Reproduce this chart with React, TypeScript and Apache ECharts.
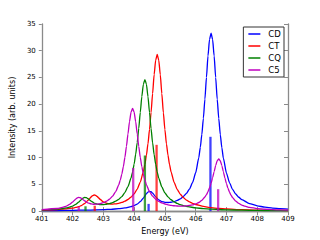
import React, { useEffect, useRef } from "react";
import * as echarts from "echarts";

const seriesNames = ["CD", "CT", "CQ", "C5"];
const seriesColors = ["#0000ff", "#ff0000", "#008000", "#bf00bf"];

const cdCurve: [number, number][] = [[401,0.09],[401.5,0.11],[402,0.14],[402.5,0.19],[403,0.27],[403.25,0.34],[403.5,0.45],[403.7,0.59],[403.9,0.83],[404,1.03],[404.1,1.32],[404.2,1.77],[404.3,2.44],[404.4,3.25],[404.45,3.56],[404.5,3.7],[404.55,3.62],[404.6,3.36],[404.7,2.66],[404.8,2.11],[404.9,1.79],[405,1.64],[405.1,1.61],[405.2,1.66],[405.3,1.79],[405.4,2.0],[405.5,2.3],[405.6,2.73],[405.7,3.32],[405.8,4.14],[405.9,5.36],[406,7.17],[406.1,9.96],[406.15,11.91],[406.2,14.33],[406.25,17.36],[406.3,20.95],[406.35,25.0],[406.4,29.02],[406.45,32.11],[406.5,33.3],[406.55,32.1],[406.6,29.01],[406.65,24.98],[406.7,20.92],[406.75,17.33],[406.8,14.3],[406.85,11.88],[406.9,9.91],[407,7.12],[407.1,5.29],[407.2,4.05],[407.3,3.2],[407.4,2.59],[407.5,2.13],[407.75,1.4],[408,0.99],[408.25,0.73],[408.5,0.57],[408.75,0.45],[409,0.37]];

const ctCurve: [number, number][] = [[401,0.2],[401.5,0.3],[401.8,0.42],[402,0.57],[402.1,0.68],[402.2,0.84],[402.3,1.08],[402.4,1.45],[402.5,1.99],[402.55,2.32],[402.6,2.64],[402.65,2.9],[402.7,3.01],[402.75,2.94],[402.8,2.73],[402.85,2.45],[402.9,2.17],[403,1.73],[403.1,1.47],[403.2,1.34],[403.3,1.31],[403.4,1.36],[403.5,1.46],[403.6,1.62],[403.7,1.85],[403.8,2.17],[403.9,2.62],[404,3.23],[404.1,4.12],[404.2,5.43],[404.3,7.38],[404.35,8.75],[404.4,10.48],[404.45,12.61],[404.5,15.27],[404.55,18.43],[404.6,21.99],[404.65,25.53],[404.7,28.25],[404.75,29.3],[404.8,28.25],[404.85,25.52],[404.9,21.98],[404.95,18.41],[405,15.25],[405.05,12.58],[405.1,10.45],[405.15,8.72],[405.2,7.34],[405.3,5.38],[405.4,4.06],[405.5,3.15],[405.6,2.52],[405.7,2.06],[405.8,1.71],[405.9,1.44],[406,1.23],[406.25,0.87],[406.5,0.64],[406.75,0.5],[407,0.4],[407.5,0.27],[408,0.19],[408.5,0.145],[409,0.11]];

const cqCurve: [number, number][] = [[401,0.22],[401.5,0.37],[401.7,0.49],[401.8,0.59],[401.9,0.73],[402,0.93],[402.1,1.24],[402.2,1.69],[402.25,1.97],[402.3,2.24],[402.35,2.46],[402.4,2.56],[402.45,2.51],[402.5,2.33],[402.55,2.1],[402.6,1.87],[402.7,1.51],[402.8,1.31],[402.9,1.22],[403,1.22],[403.1,1.28],[403.2,1.4],[403.3,1.58],[403.4,1.85],[403.5,2.21],[403.6,2.72],[403.7,3.47],[403.8,4.57],[403.9,6.2],[403.95,7.35],[404,8.8],[404.05,10.59],[404.1,12.82],[404.15,15.47],[404.2,18.46],[404.25,21.43],[404.3,23.72],[404.35,24.6],[404.4,23.72],[404.45,21.42],[404.5,18.45],[404.55,15.45],[404.6,12.8],[404.65,10.57],[404.7,8.77],[404.75,7.32],[404.8,6.17],[404.9,4.52],[405,3.41],[405.1,2.65],[405.2,2.12],[405.3,1.73],[405.4,1.43],[405.5,1.21],[405.6,1.03],[405.75,0.83],[406,0.61],[406.25,0.46],[406.5,0.36],[407,0.24],[407.5,0.17],[408,0.13],[408.5,0.1],[409,0.08]];

const c5Curve: [number, number][] = [[401,0.26],[401.5,0.49],[401.7,0.73],[401.8,0.93],[401.9,1.24],[402,1.69],[402.05,1.97],[402.1,2.25],[402.15,2.46],[402.2,2.56],[402.25,2.51],[402.3,2.34],[402.35,2.11],[402.4,1.89],[402.5,1.54],[402.6,1.35],[402.7,1.28],[402.8,1.3],[402.9,1.4],[403,1.58],[403.1,1.84],[403.2,2.22],[403.3,2.8],[403.4,3.64],[403.5,4.91],[403.55,5.8],[403.6,6.93],[403.65,8.31],[403.7,10.05],[403.75,12.11],[403.8,14.43],[403.85,16.74],[403.9,18.51],[403.95,19.2],[404,18.51],[404.05,16.74],[404.1,14.43],[404.15,12.11],[404.2,10.05],[404.25,8.32],[404.3,6.93],[404.35,5.81],[404.4,4.91],[404.5,3.64],[404.6,2.8],[404.7,2.22],[404.8,1.82],[404.9,1.53],[405,1.33],[405.1,1.18],[405.2,1.07],[405.3,1.0],[405.4,0.95],[405.5,0.93],[405.6,0.94],[405.7,0.98],[405.8,1.05],[405.9,1.16],[406,1.34],[406.1,1.61],[406.2,2.02],[406.3,2.64],[406.35,3.08],[406.4,3.64],[406.45,4.33],[406.5,5.19],[406.55,6.22],[406.6,7.39],[406.65,8.54],[406.7,9.43],[406.75,9.77],[406.8,9.42],[406.85,8.52],[406.9,7.35],[406.95,6.18],[407,5.14],[407.05,4.26],[407.1,3.55],[407.15,2.98],[407.2,2.53],[407.3,1.88],[407.4,1.44],[407.5,1.13],[407.6,0.92],[407.75,0.7],[408,0.48],[408.25,0.35],[408.5,0.27],[408.75,0.22],[409,0.18]];

const cdSticks: [number, number][] = [[404.47, 1.35], [406.48, 13.9]];
const ctSticks: [number, number][] = [[402.72, 1.0], [404.73, 12.4]];
const cqSticks: [number, number][] = [[402.42, 0.9], [404.35, 10.4]];
const c5Sticks: [number, number][] = [[402.2, 0.8], [403.97, 8.06], [406.73, 4.1]];

const curves = [cdCurve, ctCurve, cqCurve, c5Curve];
const sticks = [cdSticks, ctSticks, cqSticks, c5Sticks];

const FONT = "DejaVu Sans";

export default function App() {
  const ref = useRef<HTMLDivElement>(null);
  useEffect(() => {
    if (!ref.current) return;
    const chart = echarts.init(ref.current, null, { renderer: "svg" });
    const axisColor = "#8a8a8a";
    const series: any[] = [];
    seriesNames.forEach((name, i) => {
      series.push({
        name,
        type: "line",
        data: curves[i],
        showSymbol: false,
        smooth: 0.2,
        smoothMonotone: "x",
        lineStyle: { color: seriesColors[i], width: 1.3 },
        itemStyle: { color: seriesColors[i] },
        z: 2 + i,
      });
      const color = seriesColors[i];
      series.push({
        name: name + " sticks",
        type: "custom",
        data: sticks[i],
        renderItem: (_p: any, api: any) => {
          const x = api.value(0);
          const h = api.value(1);
          const p0 = api.coord([x, 0]);
          const p1 = api.coord([x, h]);
          return {
            type: "line",
            shape: { x1: p0[0], y1: p0[1], x2: p1[0], y2: p1[1] },
            style: { stroke: color, lineWidth: 2.3, opacity: 0.75 },
          };
        },
        z: 2 + i,
      });
    });
    chart.setOption({
      animation: false,
      backgroundColor: "#fff",
      textStyle: { fontFamily: FONT },
      grid: { left: 40, right: 32, top: 24, bottom: 25 },
      legend: {
        data: seriesNames,
        orient: "vertical",
        right: 36,
        top: 27,
        itemWidth: 12,
        itemHeight: 1.5,
        itemGap: 0,
        icon: "rect",
        padding: [1, 3, 1, 5],
        borderColor: "#333",
        borderWidth: 1,
        backgroundColor: "#fff",
        textStyle: { fontSize: 8.5, color: "#000", fontFamily: FONT, lineHeight: 12, padding: [0, 0, 0, 3] },
      },
      xAxis: [
        {
          type: "value",
          min: 401,
          max: 409,
          interval: 1,
          name: "Energy (eV)",
          nameLocation: "middle",
          nameGap: 15,
          nameTextStyle: { fontSize: 8, color: "#000", fontFamily: FONT },
          axisLine: { lineStyle: { color: axisColor, width: 1.3 } },
          axisTick: { inside: true, length: 4, lineStyle: { color: axisColor } },
          axisLabel: { fontSize: 7, color: "#000", margin: 4, fontFamily: FONT },
          splitLine: { show: false },
        },
        {
          type: "value",
          position: "top",
          min: 401,
          max: 409,
          interval: 1,
          axisLine: { lineStyle: { color: axisColor, width: 1.3 } },
          axisTick: { inside: true, length: 4, lineStyle: { color: axisColor } },
          axisLabel: { show: false },
          splitLine: { show: false },
        },
      ],
      yAxis: [
        {
          type: "value",
          min: 0,
          max: 35,
          interval: 5,
          name: "Intensity (arb. units)",
          nameLocation: "middle",
          nameGap: 22,
          nameTextStyle: { fontSize: 8, color: "#000", fontFamily: FONT },
          axisLine: { lineStyle: { color: axisColor, width: 1.3 } },
          axisTick: { inside: false, length: 3, lineStyle: { color: axisColor } },
          axisLabel: { fontSize: 7, color: "#000", margin: 6, fontFamily: FONT },
          splitLine: { show: false },
        },
        {
          type: "value",
          position: "right",
          min: 0,
          max: 35,
          interval: 5,
          axisLine: { lineStyle: { color: axisColor, width: 1.3 } },
          axisTick: { inside: true, length: 4, lineStyle: { color: axisColor } },
          axisLabel: { show: false },
          splitLine: { show: false },
        },
      ],
      series,
    });
    return () => chart.dispose();
  }, []);
  return (
    <div
      ref={ref}
      style={{ position: "fixed", left: 0, top: 0, width: 320, height: 240, background: "#fff" }}
    />
  );
}
